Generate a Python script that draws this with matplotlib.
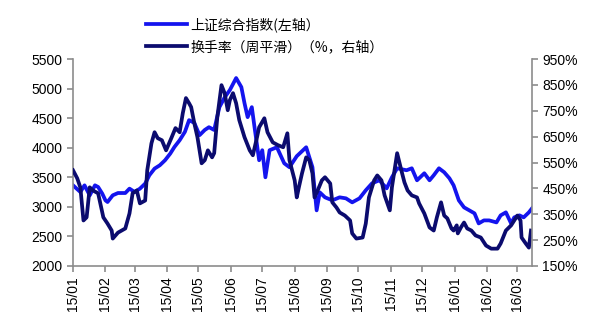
import matplotlib
matplotlib.use("Agg")
import matplotlib.pyplot as plt
import matplotlib.dates as mdates
import pandas as pd

# 上证综合指数 (left axis)
idx_dates = ["2015-01-01", "2015-01-08", "2015-01-12", "2015-01-17", "2015-01-22", "2015-01-25",
             "2015-01-29", "2015-02-01", "2015-02-03", "2015-02-08", "2015-02-13", "2015-02-20",
             "2015-02-24", "2015-03-01", "2015-03-06", "2015-03-11", "2015-03-15", "2015-03-20",
             "2015-03-25", "2015-03-30", "2015-04-04", "2015-04-08", "2015-04-13", "2015-04-18",
             "2015-04-22", "2015-04-27", "2015-05-02", "2015-05-07", "2015-05-11", "2015-05-16",
             "2015-05-21", "2015-05-26", "2015-05-31", "2015-06-06", "2015-06-11", "2015-06-14",
             "2015-06-17", "2015-06-21", "2015-06-24", "2015-06-28", "2015-07-01", "2015-07-04",
             "2015-07-08", "2015-07-15", "2015-07-22", "2015-07-27", "2015-08-03", "2015-08-12",
             "2015-08-18", "2015-08-22", "2015-08-25", "2015-08-30", "2015-09-06", "2015-09-13",
             "2015-09-19", "2015-09-25", "2015-10-02", "2015-10-08", "2015-10-14", "2015-10-21",
             "2015-10-28", "2015-11-02", "2015-11-07", "2015-11-16", "2015-11-21", "2015-11-26",
             "2015-12-03", "2015-12-08", "2015-12-12", "2015-12-17", "2015-12-22", "2015-12-27",
             "2015-12-31", "2016-01-05", "2016-01-10", "2016-01-15", "2016-01-20", "2016-01-24",
             "2016-01-29", "2016-02-03", "2016-02-10", "2016-02-14", "2016-02-19", "2016-02-24",
             "2016-02-27", "2016-03-03", "2016-03-07", "2016-03-12", "2016-03-15"]
idx_values = [3364, 3251, 3364, 3195, 3364, 3336,
              3223, 3110, 3082, 3195, 3234, 3234,
              3308, 3251, 3308, 3393, 3534, 3647,
              3703, 3788, 3901, 4013, 4127, 4268,
              4466, 4420, 4212, 4300, 4347, 4300,
              4686, 4850, 4975, 5178, 5025, 4754,
              4517, 4686, 4296, 3788, 3958, 3500,
              3958, 4008, 3737, 3670, 3857, 4008,
              3670, 2941, 3245, 3161, 3110, 3161,
              3144, 3076, 3144, 3280, 3398, 3449,
              3313, 3500, 3652, 3619, 3652, 3449,
              3568, 3449, 3534, 3652, 3585, 3483,
              3364, 3110, 2991, 2941, 2890, 2720,
              2771, 2771, 2737, 2856, 2907, 2720,
              2822, 2856, 2822, 2907, 2975]

# 换手率(周平滑) % (right axis)
tr_dates = ["2015-01-01", "2015-01-05", "2015-01-08", "2015-01-11", "2015-01-14", "2015-01-17",
            "2015-01-20", "2015-01-25", "2015-01-30", "2015-02-03", "2015-02-07", "2015-02-08",
            "2015-02-13", "2015-02-20", "2015-02-24", "2015-02-27", "2015-03-03", "2015-03-06",
            "2015-03-11", "2015-03-13", "2015-03-17", "2015-03-20", "2015-03-23", "2015-03-27",
            "2015-03-31", "2015-04-05", "2015-04-09", "2015-04-13", "2015-04-16", "2015-04-19",
            "2015-04-22", "2015-04-24", "2015-04-27", "2015-04-30", "2015-05-04", "2015-05-07",
            "2015-05-10", "2015-05-14", "2015-05-16", "2015-05-19", "2015-05-23", "2015-05-26",
            "2015-05-29", "2015-05-31", "2015-06-03", "2015-06-06", "2015-06-09", "2015-06-14",
            "2015-06-19", "2015-06-22", "2015-06-26", "2015-06-28", "2015-07-03", "2015-07-06",
            "2015-07-11", "2015-07-16", "2015-07-21", "2015-07-25", "2015-07-27", "2015-08-01",
            "2015-08-03", "2015-08-05", "2015-08-08", "2015-08-12", "2015-08-15", "2015-08-18",
            "2015-08-20", "2015-08-23", "2015-08-27", "2015-08-30", "2015-09-04", "2015-09-06",
            "2015-09-10", "2015-09-13", "2015-09-18", "2015-09-23", "2015-09-25", "2015-09-29",
            "2015-10-05", "2015-10-08", "2015-10-11", "2015-10-16", "2015-10-19", "2015-10-23",
            "2015-10-26", "2015-10-31", "2015-11-02", "2015-11-07", "2015-11-11", "2015-11-14",
            "2015-11-17", "2015-11-21", "2015-11-26", "2015-11-28", "2015-12-03", "2015-12-08",
            "2015-12-12", "2015-12-15", "2015-12-19", "2015-12-22", "2015-12-25", "2015-12-29",
            "2015-12-31", "2016-01-03", "2016-01-04", "2016-01-07", "2016-01-10", "2016-01-13",
            "2016-01-17", "2016-01-21", "2016-01-26", "2016-01-31", "2016-02-05", "2016-02-11",
            "2016-02-14", "2016-02-19", "2016-02-24", "2016-02-27", "2016-03-01", "2016-03-04",
            "2016-03-05", "2016-03-09", "2016-03-12", "2016-03-14"]
tr_values = [520, 489, 454, 326, 338, 454,
             442, 431, 338, 314, 287, 256,
             279, 295, 353, 431, 442, 392,
             403, 520, 624, 667, 644, 636,
             597, 644, 683, 667, 741, 799,
             779, 764, 702, 648, 547, 559,
             597, 570, 586, 725, 849, 818,
             752, 791, 818, 779, 714, 648,
             597, 578, 648, 686, 721, 667,
             628, 617, 609, 663, 559, 481,
             415, 454, 508, 570, 559, 508,
             415, 442, 481, 493, 469, 396,
             376, 357, 345, 326, 276, 256,
             260, 314, 415, 481, 500, 481,
             423, 365, 454, 586, 520, 473,
             442, 423, 415, 392, 353, 299,
             287, 338, 396, 345, 334, 295,
             287, 307, 276, 299, 318, 295,
             287, 268, 260, 229, 217, 217,
             237, 287, 307, 326, 345, 326,
             260, 237, 221, 287]

label_idx = "上证综合指数(左轴）"
label_tr = "换手率（周平滑）（%，右轴）"

plt.rcParams["font.family"] = ["Liberation Sans", "DejaVu Sans"]
cjk = ["Noto Sans CJK SC", "DejaVu Sans"]
grey = "#8c8c8c"

fig = plt.figure(figsize=(6.0, 3.23), dpi=100)
ax = fig.add_axes([0.1217, 0.1765, 0.765, 0.6408])
ax2 = ax.twinx()

# index on the primary axis, turnover drawn over it on the secondary axis
l1, = ax.plot(pd.to_datetime(idx_dates), idx_values, color="#1414ee", lw=2.7,
              solid_joinstyle="round")
l2, = ax2.plot(pd.to_datetime(tr_dates), tr_values, color="#0b0b6e", lw=2.7,
               solid_joinstyle="round")

ax.set_ylim(2000, 5500)
ax.set_yticks(range(2000, 5501, 500))
ax2.set_ylim(150, 950)
ax2.set_yticks(range(150, 951, 100))
ax2.set_yticklabels([f"{v}%" for v in range(150, 951, 100)])

ax.set_xlim(pd.Timestamp("2015-01-01"), pd.Timestamp("2016-03-15"))
ax.xaxis.set_major_locator(mdates.MonthLocator())
ax.xaxis.set_major_formatter(mdates.DateFormatter("%y/%m"))
plt.setp(ax.get_xticklabels(), rotation=90)

for a in (ax, ax2):
    a.spines["top"].set_visible(False)
    for s in ("left", "right", "bottom"):
        a.spines[s].set_color(grey)
        a.spines[s].set_linewidth(1.2)
    a.tick_params(colors=grey, labelcolor="black", labelsize=10, length=4, width=1.2)
ax.spines["right"].set_visible(False)
ax2.spines["left"].set_visible(False)
ax2.spines["bottom"].set_visible(False)

fig.legend([l1, l2], [label_idx, label_tr], loc="upper left",
           bbox_to_anchor=(0.222, 0.985), frameon=False, prop={"family": cjk, "size": 10},
           handlelength=3.0, handletextpad=0.2, labelspacing=0.55)

fig.savefig("out.png", dpi=100)
